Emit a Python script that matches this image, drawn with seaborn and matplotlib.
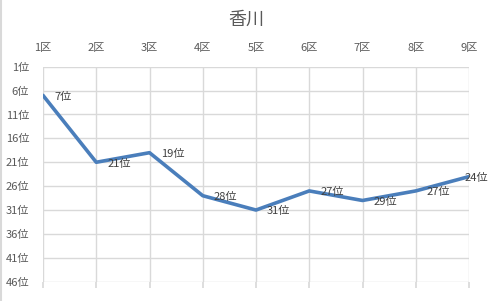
import matplotlib
matplotlib.use("Agg")
import matplotlib.pyplot as plt
import seaborn as sns
import pandas as pd
from matplotlib.lines import Line2D

districts = ["1区", "2区", "3区", "4区", "5区", "6区", "7区", "8区", "9区"]
ranks = [7, 21, 19, 28, 31, 27, 29, 27, 24]
ytick_vals = [1, 6, 11, 16, 21, 26, 31, 36, 41, 46]
title = "香川"

sns.set_theme(style="white")
plt.rcParams['font.family'] = ['Noto Sans CJK JP', 'DejaVu Sans']

df = pd.DataFrame({"district": districts, "rank": ranks})

fig = plt.figure(figsize=(4.93, 3.01), dpi=100)
ax = fig.add_axes([43/493, 1-281.7/301, (469-43)/493, (281.7-66.7)/301])

sns.lineplot(data=df, x="district", y="rank", ax=ax, color="#4a7ebb",
             linewidth=2.6, sort=False)

ax.set_xlim(0, len(districts)-1)
ax.set_ylim(46, 1)
ax.set_yticks(ytick_vals)
ax.set_yticklabels([f"{v}位" for v in ytick_vals])
ax.set_xticks(range(len(districts)))
ax.set_xticklabels(districts)
ax.set_xlabel("")
ax.set_ylabel("")
ax.grid(True, color="#d9d9d9", linewidth=1)
for s in ax.spines.values():
    s.set_visible(False)
ax.tick_params(axis='x', top=False, labeltop=True, bottom=True, labelbottom=False,
               length=4, color="#d9d9d9", labelsize=8, labelcolor="#595959", pad=6)
ax.tick_params(axis='y', left=False, labelsize=8, labelcolor="#595959", pad=4)

for i, r in enumerate(ranks):
    dx = 8 if i < len(ranks) - 1 else -3
    ax.annotate(f"{r}位", (i, r), xytext=(dx, -1), textcoords="offset points",
                ha="left", va="center", fontsize=8, color="#404040",
                annotation_clip=False)

fig.text(0.5, 1-20/301, title, ha="center", va="center", fontsize=13, color="#595959")

fig.lines.append(Line2D([0.002, 0.002], [0, 1], transform=fig.transFigure,
                        color="#d9d9d9", linewidth=1.5))

fig.savefig("out.png", dpi=100)
